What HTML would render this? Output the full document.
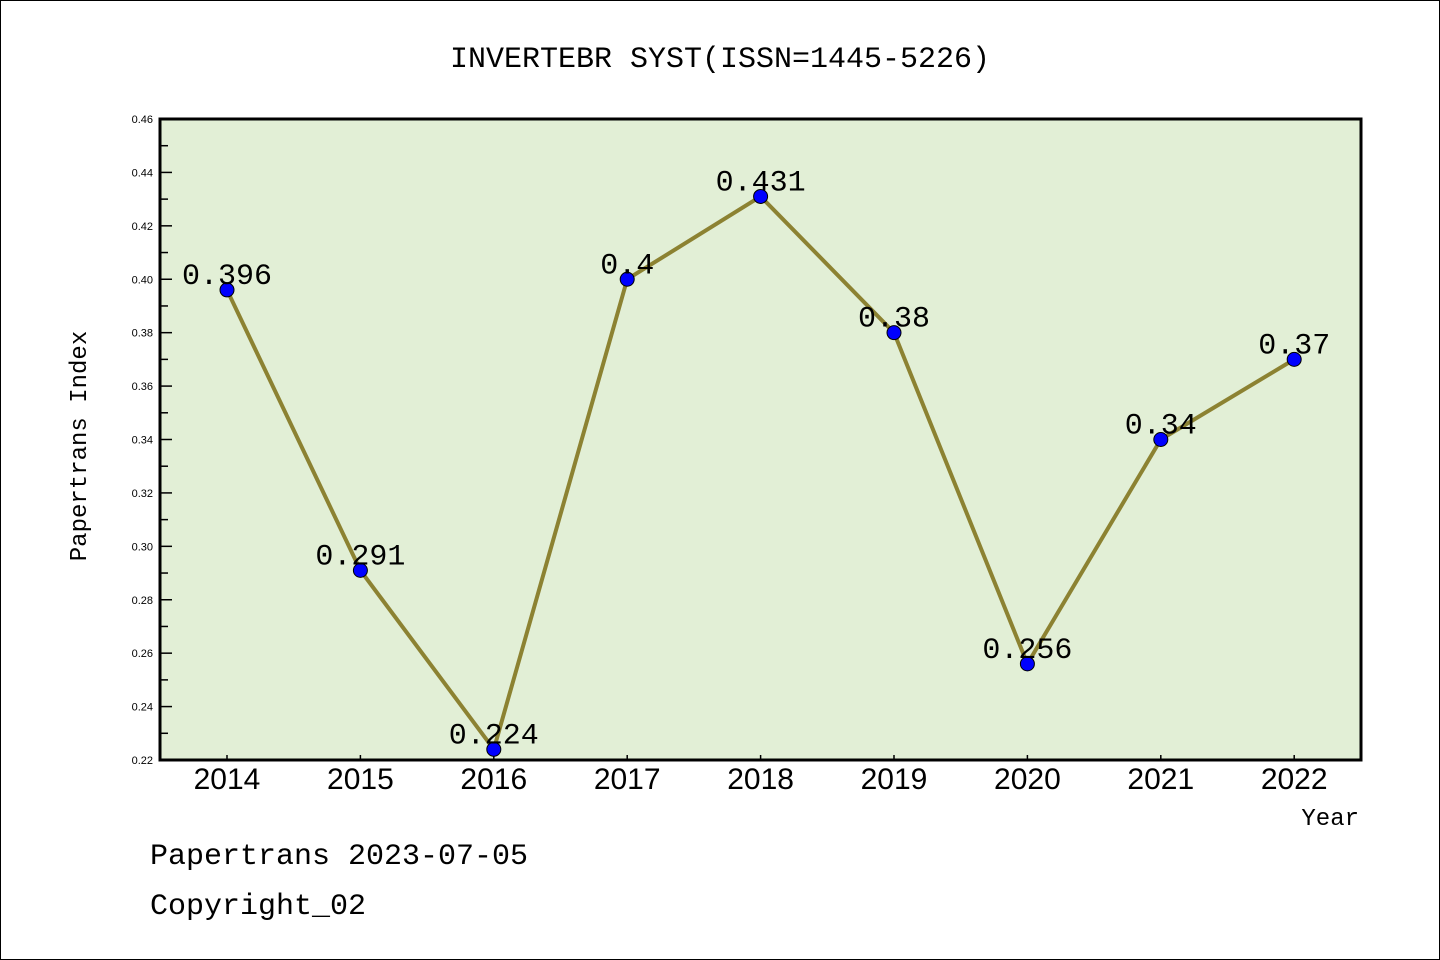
<!DOCTYPE html>
<html><head><meta charset="utf-8"><style>
body{margin:0;background:#fff}
svg{display:block}
text{font-family:"Liberation Mono","DejaVu Sans Mono",monospace}
</style></head><body>
<svg id="c" width="1440" height="960">
<rect x="0.5" y="0.5" width="1439" height="959" fill="#fff" stroke="#000"/>
<text x="720" y="67" font-size="30" text-anchor="middle">INVERTEBR SYST(ISSN=1445-5226)</text>
<rect x="160" y="119" width="1201" height="641" fill="#e2efd6"/>
<g id="g"></g>
<rect x="160" y="119" width="1201" height="641" fill="none" stroke="#000" stroke-width="3"/>
<text x="86" y="446" font-size="24" text-anchor="middle" transform="rotate(-90 86 446)">Papertrans Index</text>
<text x="1359" y="825" font-size="24" text-anchor="end">Year</text>
<text x="150" y="864" font-size="30">Papertrans 2023-07-05</text>
<text x="150" y="914" font-size="30">Copyright_02</text>
</svg>
<script>
const categories=["2014","2015","2016","2017","2018","2019","2020","2021","2022"];
const values=[0.396,0.291,0.224,0.4,0.431,0.38,0.256,0.34,0.37];
const labels=["0.396","0.291","0.224","0.4","0.431","0.38","0.256","0.34","0.37"];
const yTicks=[0.22,0.24,0.26,0.28,0.30,0.32,0.34,0.36,0.38,0.40,0.42,0.44,0.46];
const ymin=0.22,ymax=0.46;
const NS="http://www.w3.org/2000/svg";
const g=document.getElementById('g');
const X=i=>227+i*133.4;
const Y=v=>760-(v-ymin)/(ymax-ymin)*641;
function mk(t,a){const e=document.createElementNS(NS,t);for(const k in a)e.setAttribute(k,a[k]);g.appendChild(e);return e;}
yTicks.forEach((v,i)=>{
 const y=Y(v);
 const l=mk('line',{x1:160,x2:172,y1:y,y2:y,stroke:'#000','stroke-width':1.5});
 
 
 const t=mk('text',{x:153,y:y+4,'font-size':11,'text-anchor':'end',style:'font-family:"Liberation Sans",sans-serif'});
 t.textContent=v.toFixed(2);
 
 
 if(i<yTicks.length-1){const m=Y(v+0.01);const ml=mk('line',{x1:160,x2:168,y1:m,y2:m,stroke:'#000','stroke-width':1.5});
 
 }
});
categories.forEach((c,i)=>{
 const x=X(i);
 const l=mk('line',{x1:x,x2:x,y1:755,y2:760,stroke:'#000','stroke-width':1.5});
 
 
 const t=mk('text',{x:x,y:789,'font-size':30,'text-anchor':'middle',style:'font-family:"Liberation Sans",sans-serif'});
 t.textContent=c;
 
 
});
const p=mk('polyline',{points:values.map((v,i)=>X(i)+','+Y(v)).join(' '),fill:'none',stroke:'#8c8232','stroke-width':4});


values.forEach((v,i)=>{
 const c=mk('circle',{cx:X(i),cy:Y(v),r:7,fill:'#0000ff',stroke:'#000','stroke-width':1});
 
 
 const t=mk('text',{x:X(i),y:Y(v)-6,'font-size':30,'text-anchor':'middle'});
 t.textContent=labels[i];
 
 
});
</script>
</body></html>
